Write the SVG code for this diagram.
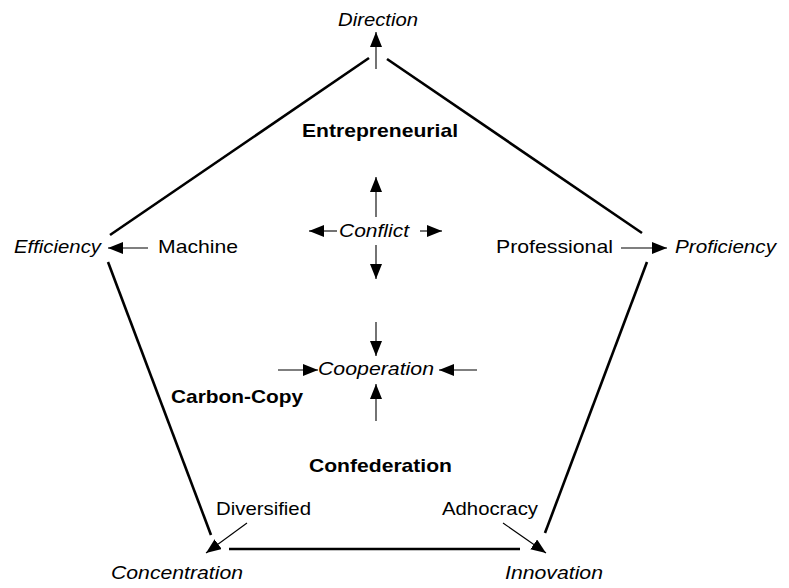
<svg xmlns="http://www.w3.org/2000/svg" width="789" height="588" viewBox="0 0 789 588">
<style>
text{font-family:"Liberation Sans",Arial,sans-serif;font-size:19px;fill:#000}
.i{font-style:italic}
.b{font-weight:bold}
.edge{stroke:#000;stroke-width:2.6;fill:none;stroke-linecap:butt}
.arr{stroke:#000;stroke-width:1.1;fill:none;marker-end:url(#ah)}
</style>
<defs>
<marker id="ah" markerUnits="userSpaceOnUse" markerWidth="15" markerHeight="12" refX="15" refY="6" orient="auto">
<path d="M0,0 L15,6 L0,12 z" fill="#000"/>
</marker>
</defs>
<rect width="789" height="588" fill="#fff"/>
<g id="connectors">
<line class="edge" x1="110" y1="235" x2="369" y2="58"/>
<line class="edge" x1="387" y1="59" x2="642" y2="233"/>
<line class="edge" x1="108" y1="262" x2="211" y2="535"/>
<line class="edge" x1="647" y1="262" x2="545" y2="533"/>
<line class="edge" x1="229" y1="549" x2="520" y2="549"/>
<line class="arr" x1="376" y1="69" x2="376" y2="32"/>
<line class="arr" x1="148" y1="248" x2="108" y2="248"/>
<line class="arr" x1="621" y1="248" x2="667" y2="248"/>
<line class="arr" x1="376" y1="217" x2="376" y2="177"/>
<line class="arr" x1="376" y1="245" x2="376" y2="279"/>
<line class="arr" x1="337" y1="231" x2="309" y2="231"/>
<line class="arr" x1="420" y1="231" x2="442" y2="231"/>
<line class="arr" x1="376" y1="322" x2="376" y2="356"/>
<line class="arr" x1="376" y1="421" x2="376" y2="384"/>
<line class="arr" x1="278" y1="370" x2="318" y2="370"/>
<line class="arr" x1="477" y1="370" x2="439" y2="370"/>
<line class="arr" x1="247" y1="523" x2="206" y2="553"/>
<line class="arr" x1="503" y1="523" x2="546" y2="553"/>
</g>
<g id="direction"><text class="i" x="338" y="26" textLength="80" lengthAdjust="spacingAndGlyphs">Direction</text></g>
<g id="efficiency"><text class="i" x="14" y="253" textLength="87" lengthAdjust="spacingAndGlyphs">Efficiency</text></g>
<g id="machine"><text x="158" y="253" textLength="80" lengthAdjust="spacingAndGlyphs">Machine</text></g>
<g id="professional"><text x="496" y="253" textLength="117" lengthAdjust="spacingAndGlyphs">Professional</text></g>
<g id="proficiency"><text class="i" x="675" y="253" textLength="101" lengthAdjust="spacingAndGlyphs">Proficiency</text></g>
<g id="entrepreneurial"><text class="b" x="302" y="137" textLength="156" lengthAdjust="spacingAndGlyphs">Entrepreneurial</text></g>
<g id="conflict"><text class="i" x="339" y="237" textLength="70" lengthAdjust="spacingAndGlyphs">Conflict</text></g>
<g id="cooperation"><text class="i" x="318" y="375" textLength="116" lengthAdjust="spacingAndGlyphs">Cooperation</text></g>
<g id="carbon-copy"><text class="b" x="171" y="403" textLength="132" lengthAdjust="spacingAndGlyphs">Carbon-Copy</text></g>
<g id="confederation"><text class="b" x="309" y="472" textLength="143" lengthAdjust="spacingAndGlyphs">Confederation</text></g>
<g id="diversified"><text x="216" y="515" textLength="95" lengthAdjust="spacingAndGlyphs">Diversified</text></g>
<g id="adhocracy"><text x="442" y="515" textLength="96" lengthAdjust="spacingAndGlyphs">Adhocracy</text></g>
<g id="concentration"><text class="i" x="111" y="579" textLength="132" lengthAdjust="spacingAndGlyphs">Concentration</text></g>
<g id="innovation"><text class="i" x="505" y="579" textLength="98" lengthAdjust="spacingAndGlyphs">Innovation</text></g>
</svg>
